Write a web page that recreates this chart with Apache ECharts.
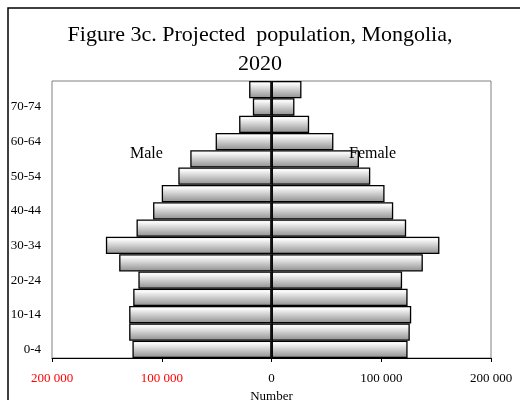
<!DOCTYPE html>
<html>
<head>
<meta charset="utf-8">
<script src="https://cdn.jsdelivr.net/npm/echarts@6/dist/echarts.min.js"></script>
<style>
  html, body { margin: 0; padding: 0; background: #fff; }
  #chart { width: 520px; height: 400px; }
</style>
</head>
<body>
<div id="chart"></div>
<script>
// age groups, bottom to top
var ageGroups = ['0-4', '5-9', '10-14', '15-19', '20-24', '25-29', '30-34', '35-39',
                 '40-44', '45-49', '50-54', '55-59', '60-64', '65-69', '70-74', '75+'];
// male values (shown on the left, so plotted negative)
var maleValues = [126700, 129700, 129700, 126000, 121300, 138800, 150900, 123000,
                  107900, 100000, 84900, 74000, 50900, 29500, 17000, 20400];
var femaleValues = [124000, 126000, 127300, 124000, 119000, 137900, 153000, 122700,
                    110900, 103000, 90000, 79700, 56400, 34300, 20900, 27300];
var xTicks = [-200000, -100000, 0, 100000, 200000];

var chart = echarts.init(document.getElementById('chart'));

// bar fill: light at top, gray at bottom
var barFill = {
  type: 'linear', x: 0, y: 0, x2: 0, y2: 1,
  colorStops: [
    { offset: 0, color: '#e6e6e6' },
    { offset: 0.15, color: '#fbfbfb' },
    { offset: 1, color: '#8e8e8e' }
  ]
};

function fmt(v) {
  var s = String(Math.abs(v));
  return s.replace(/\B(?=(\d{3})+(?!\d))/g, ' ');
}

var serif = '"Liberation Serif", "DejaVu Serif", serif';

var option = {
  backgroundColor: '#fff',
  animation: false,
  title: {
    text: 'Figure 3c. Projected  population, Mongolia,\n2020',
    left: 'center',
    top: 16,
    textStyle: {
      fontFamily: serif,
      fontWeight: 'normal',
      fontSize: 22,
      color: '#000',
      lineHeight: 29
    }
  },
  grid: {
    left: 52, right: 29, top: 81, bottom: 42,
    outerBoundsMode: 'none',
    containLabel: false,
    show: true,
    borderColor: '#808080',
    borderWidth: 1,
    backgroundColor: '#fff'
  },
  xAxis: {
    type: 'value',
    min: xTicks[0],
    max: xTicks[xTicks.length - 1],
    interval: 100000,
    name: 'Number',
    nameLocation: 'middle',
    nameGap: 31,
    nameTextStyle: { fontFamily: serif, fontSize: 13, color: '#000' },
    axisLine: { show: true, onZero: false, lineStyle: { color: '#000', width: 1 } },
    axisTick: { show: true, length: 4, lineStyle: { color: '#000' } },
    splitLine: { show: false },
    axisLabel: {
      margin: 14,
      fontFamily: serif,
      fontSize: 13,
      color: function (v) { return v < 0 ? '#ff0000' : '#000'; },
      formatter: function (v) { return fmt(v); }
    }
  },
  yAxis: {
    type: 'category',
    data: ageGroups,
    axisLine: { show: false },
    axisTick: { show: false },
    axisLabel: {
      interval: 1,
      margin: 11,
      fontFamily: serif,
      fontSize: 13,
      color: '#000'
    }
  },
  graphic: [
    {
      type: 'rect',
      shape: { x: 8, y: 8, width: 540, height: 420 },
      style: { fill: null, stroke: '#000', lineWidth: 1.5 },
      silent: true
    },
    {
      type: 'text', left: 130, top: 146,
      style: { text: 'Male', font: '16px ' + serif, fill: '#000' },
      z: 100
    },
    {
      type: 'text', left: 349, top: 146,
      style: { text: 'Female', font: '16px ' + serif, fill: '#000' },
      z: 100
    }
  ],
  series: [
    {
      name: 'Male',
      type: 'bar',
      data: maleValues.map(function (v) { return -v; }),
      barCategoryGap: '0%',
      barGap: '-100%',
      itemStyle: { color: barFill, borderColor: '#000', borderWidth: 1.3 },
      markLine: {
        silent: true,
        symbol: 'none',
        label: { show: false },
        lineStyle: { color: '#000', type: 'solid', width: 1.5 },
        data: [{ xAxis: 0 }]
      }
    },
    {
      name: 'Female',
      type: 'bar',
      data: femaleValues,
      barCategoryGap: '0%',
      barGap: '-100%',
      itemStyle: { color: barFill, borderColor: '#000', borderWidth: 1.3 }
    }
  ]
};

chart.setOption(option);
</script>
</body>
</html>
